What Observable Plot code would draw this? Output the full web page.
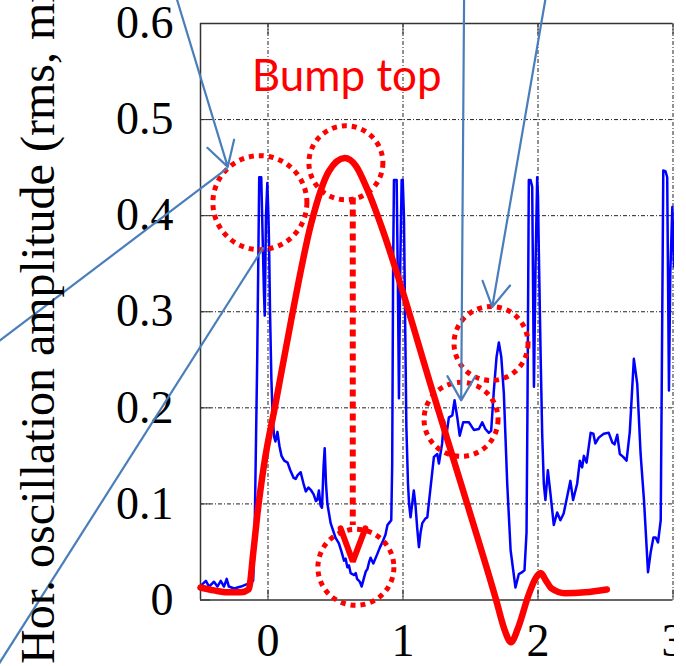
<!DOCTYPE html>
<html><head><meta charset="utf-8">
<script src="https://cdn.jsdelivr.net/npm/d3@7"></script>
<script src="https://cdn.jsdelivr.net/npm/@observablehq/plot@0.6"></script>
<style>
html,body{margin:0;padding:0;background:#fff;}
#wrap{width:674px;height:666px;overflow:hidden;}
#wrap svg{max-width:none !important;}
</style></head><body><div id="wrap"></div>
<script>
// ---------- data ----------
const xTicks = [0, 1, 2, 3];
const yTicks = [0, 0.1, 0.2, 0.3, 0.4, 0.5, 0.6];
const yTitle = "Hor. oscillation amplitude (rms, mm)";
const bumpLabel = "Bump top";

// measured horizontal oscillation amplitude (blue)
const blueX = [-0.497,-0.46,-0.437,-0.40,-0.375,-0.35,-0.326,-0.306,-0.29,-0.25,-0.20,-0.165,-0.128,-0.11,-0.1,-0.08,-0.065,
 -0.05,-0.04,-0.03,-0.024,-0.015,-0.005,0.003,0.008,0.015,0.025,0.035,0.045,0.055,0.07,0.085,0.1,0.12,0.145,0.165,0.19,0.205,0.22,0.242,0.265,0.28,0.30,0.32,0.338,0.355,0.365,0.377,0.39,0.40,0.412,0.42,0.43,0.44,0.464,0.50,0.525,0.545,0.563,0.575,0.588,0.60,0.612,0.636,0.65,0.66,0.68,0.694,0.711,0.725,0.736,0.75,0.76,0.78,0.81,0.83,0.847,0.87,0.885,0.896,0.913,0.92,0.927,0.933,0.953,0.962,0.97,0.98,0.99,0.998,1.007,1.015,1.025,1.037,1.045,1.056,1.068,1.08,1.093,1.105,1.118,1.13,1.143,1.167,1.18,1.204,1.229,1.254,1.266,1.29,1.303,1.323,1.34,1.365,1.382,1.402,1.42,1.446,1.488,1.525,1.562,1.587,1.61,1.636,1.653,1.673,1.693,1.71,1.728,1.747,1.772,1.797,1.833,1.858,1.883,1.90,1.915,1.922,1.932,1.945,1.957,1.97,1.982,1.994,2.0,2.006,2.02,2.031,2.043,2.055,2.073,2.092,2.117,2.13,2.142,2.166,2.19,2.215,2.24,2.26,2.29,2.31,2.327,2.34,2.36,2.39,2.41,2.425,2.45,2.487,2.524,2.55,2.567,2.587,2.606,2.631,2.656,2.68,2.71,2.735,2.76,2.785,2.815,2.835,2.855,2.872,2.889,2.909,2.918,2.928,2.945,2.957,2.97,2.98,2.995,3.007];
const blueY = [0.015,0.02,0.014,0.019,0.014,0.02,0.014,0.022,0.014,0.012,0.014,0.016,0.018,0.02,0.06,0.25,0.44,
 0.44,0.38,0.32,0.296,0.40,0.434,0.40,0.37,0.30,0.23,0.19,0.17,0.165,0.175,0.16,0.15,0.145,0.143,0.135,0.127,0.126,0.13,0.133,0.12,0.113,0.117,0.114,0.11,0.103,0.104,0.114,0.098,0.096,0.14,0.158,0.12,0.10,0.08,0.065,0.059,0.05,0.041,0.043,0.034,0.036,0.028,0.026,0.028,0.022,0.019,0.014,0.023,0.03,0.032,0.04,0.044,0.038,0.048,0.055,0.06,0.068,0.078,0.08,0.083,0.14,0.35,0.437,0.437,0.33,0.21,0.35,0.437,0.437,0.40,0.30,0.18,0.121,0.10,0.086,0.10,0.114,0.098,0.075,0.055,0.07,0.08,0.085,0.086,0.117,0.149,0.152,0.142,0.163,0.187,0.173,0.19,0.192,0.208,0.19,0.171,0.185,0.185,0.177,0.178,0.185,0.178,0.174,0.176,0.218,0.253,0.268,0.253,0.215,0.121,0.052,0.013,0.027,0.029,0.031,0.07,0.2,0.437,0.437,0.43,0.222,0.35,0.44,0.42,0.364,0.25,0.173,0.121,0.104,0.135,0.111,0.078,0.085,0.091,0.083,0.09,0.107,0.124,0.104,0.121,0.145,0.138,0.15,0.143,0.174,0.173,0.163,0.169,0.173,0.174,0.164,0.162,0.172,0.152,0.149,0.145,0.175,0.251,0.225,0.152,0.104,0.029,0.05,0.065,0.065,0.06,0.083,0.25,0.447,0.446,0.44,0.218,0.34,0.409,0.347];

// bump profile (red)
const redX = [-0.5,-0.4,-0.3,-0.2,-0.143,-0.11,-0.078,-0.03,0.057,0.17,0.32,0.45,0.57,0.65,0.737,0.85,0.98,1.2,1.48,1.69,1.75,1.80,1.85,1.93,1.98,2.02,2.06,2.1,2.2,2.35,2.51];
const redY = [0.013,0.010,0.008,0.008,0.011,0.048,0.09,0.14,0.205,0.29,0.392,0.446,0.46,0.452,0.427,0.385,0.329,0.226,0.098,0.0,-0.03,-0.044,-0.03,0.005,0.022,0.028,0.02,0.012,0.007,0.008,0.011];

// annotation geometry (data units)
const circleX = [-0.06, 0.577, 0.651, 1.43, 1.652];
const circleY = [0.4135, 0.455, 0.034, 0.188, 0.267];
const arrowsBlue = [
  {x1:-0.696, y1:0.635, x2:-0.298, y2:0.4508},
  {x1:1.453, y1:0.635, x2:1.431, y2:0.2078},
  {x1:2.067, y1:0.635, x2:1.661, y2:0.305}
];
const linksBlue = [
  {x1:-2.1, y1:0.258, x2:-0.30, y2:0.4495},
  {x1:-2.1, y1:-0.09, x2:-0.033, y2:0.367}
];
const dropLine = [{x1:0.628, y1:0.419, x2:0.628, y2:0.078}];
const dropHeadX = [0.538, 0.628, 0.721];
const dropHeadY = [0.0745, 0.040, 0.0745];

// ---------- build ----------
const blue = blueX.map((x, i) => ({x, y: blueY[i]}));
const red = redX.map((x, i) => ({x, y: redY[i]}));
const circles = circleX.map((x, i) => ({x, y: circleY[i], r: i === 0 ? 47 : (i === 2 ? 38 : 37)}));
const dropHead = dropHeadX.map((x, i) => ({x, y: dropHeadY[i]}));

const serif = "Liberation Serif, Times New Roman, serif";
const gridStyle = {stroke: "#222", strokeOpacity: 1, strokeWidth: 1, strokeDasharray: "4,2,1,2"};
const annBlue = "#4a7ebb";

const chart = Plot.plot({
  width: 686, height: 666,
  marginLeft: 200, marginRight: 13.5, marginTop: 23, marginBottom: 66.5,
  style: {fontFamily: serif, background: "white", color: "black", maxWidth: "none"},
  x: {domain: [-0.5, 3]},
  y: {domain: [0, 0.6]},
  r: {type: "identity"},
  marks: [
    Plot.gridX(xTicks, gridStyle),
    Plot.gridY(yTicks.slice(1, -1), gridStyle),
    Plot.ruleX([-0.5], {stroke: "#333", strokeWidth: 1.5}),
    Plot.ruleY([0, 0.6], {stroke: "#333", strokeWidth: 1.5}),
    Plot.axisY(yTicks, {anchor: "left", tickSize: 10, dx: 10, fill: "none", stroke: "#333", label: null}),
    Plot.axisY(yTicks, {anchor: "left", tickSize: 0, tickPadding: 27, fontSize: 46, fontFamily: serif, label: null, tickFormat: d => String(d)}),
    Plot.axisX(xTicks, {anchor: "bottom", tickSize: 10, dy: -10, fill: "none", stroke: "#333", label: null}),
    Plot.axisX(xTicks, {anchor: "top", tickSize: 10, dy: 10, fill: "none", stroke: "#333", label: null}),
    Plot.axisX(xTicks, {anchor: "bottom", tickSize: 0, tickPadding: 23, fontSize: 46, fontFamily: serif, label: null, tickFormat: d => String(d)}),
    Plot.line(blue, {x: "x", y: "y", stroke: "#0000ff", strokeWidth: 2.5, strokeLinejoin: "round"}),
    Plot.line(red, {x: "x", y: "y", stroke: "#ff0000", strokeWidth: 6.5, curve: "monotone-x", strokeLinecap: "round", strokeLinejoin: "round"}),
    Plot.link(dropLine, {x1: "x1", y1: "y1", x2: "x2", y2: "y2", stroke: "#ff0000", strokeWidth: 6, strokeDasharray: "7,5"}),
    Plot.line(dropHead, {x: "x", y: "y", stroke: "#ff0000", strokeWidth: 6, strokeLinejoin: "miter"}),
    Plot.dot(circles, {x: "x", y: "y", r: "r", stroke: "#ff0000", strokeWidth: 5, strokeDasharray: "5,5", fill: "none"}),
    Plot.link(linksBlue, {x1: "x1", y1: "y1", x2: "x2", y2: "y2", stroke: annBlue, strokeWidth: 2.2}),
    Plot.arrow(arrowsBlue, {x1: "x1", y1: "y1", x2: "x2", y2: "y2", stroke: annBlue, strokeWidth: 2.2, headLength: 19, headAngle: 60}),
    Plot.text([bumpLabel], {x: -0.12, y: 0.5447, text: d => d, textAnchor: "start", lineAnchor: "middle", fill: "#ff0000", fontSize: 44, fontFamily: "Lato, sans-serif"}),
    Plot.text([yTitle], {frameAnchor: "bottom-left", dx: -162, dy: 64, rotate: -90, text: d => d, textAnchor: "start", lineAnchor: "middle", fontSize: 48, fontFamily: serif, fill: "black"})
  ]
});
document.getElementById("wrap").appendChild(chart);
</script></body></html>
